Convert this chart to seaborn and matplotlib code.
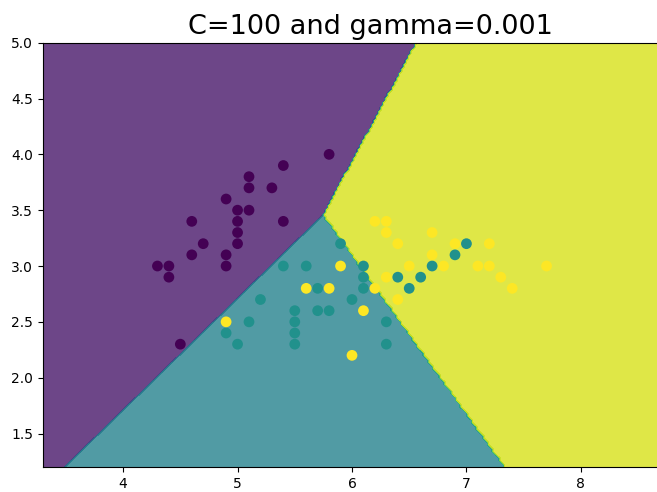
import numpy as np
import pandas as pd
import matplotlib
matplotlib.use("Agg")
import matplotlib.pyplot as plt
import seaborn as sns

# test points (sepal length, sepal width) per class
setosa_x = [5.8, 5.4, 5.1, 5.1, 5.3, 4.9, 5.0, 5.1, 4.6, 5.0, 5.4, 5.0, 4.7, 5.0, 4.6, 4.9, 4.3, 4.4, 4.9, 4.4, 4.5]
setosa_y = [4.0, 3.9, 3.8, 3.7, 3.7, 3.6, 3.5, 3.5, 3.4, 3.4, 3.4, 3.3, 3.2, 3.2, 3.1, 3.1, 3.0, 3.0, 3.0, 2.9, 2.3]
versicolor_x = [5.9, 7.0, 6.9, 5.4, 5.6, 6.1, 6.7, 6.1, 6.4, 6.6, 5.7, 6.1, 6.5, 5.2, 6.0, 5.5, 5.7, 5.8, 5.1, 5.5, 6.3, 4.9, 5.5, 5.0, 5.5, 6.3]
versicolor_y = [3.2, 3.2, 3.1, 3.0, 3.0, 3.0, 3.0, 2.9, 2.9, 2.9, 2.8, 2.8, 2.8, 2.7, 2.7, 2.6, 2.6, 2.6, 2.5, 2.5, 2.5, 2.4, 2.4, 2.3, 2.3, 2.3]
virginica_x = [6.2, 6.3, 6.3, 6.7, 6.4, 6.9, 7.2, 6.7, 5.9, 6.5, 6.8, 7.1, 7.2, 7.7, 6.3, 7.3, 5.6, 5.8, 6.2, 7.4, 6.4, 6.1, 4.9, 6.0]
virginica_y = [3.4, 3.4, 3.3, 3.3, 3.2, 3.2, 3.2, 3.1, 3.0, 3.0, 3.0, 3.0, 3.0, 3.0, 2.9, 2.9, 2.8, 2.8, 2.8, 2.8, 2.7, 2.6, 2.5, 2.2]

# decision region description: junction point and boundary angles (degrees)
junction = [5.75, 3.46]
boundary_angles = [62.2, 225.0, 305.1]  # purple/yellow, purple/teal, teal/yellow

title = "C=100 and gamma=0.001"

X = np.array(setosa_x + versicolor_x + virginica_x)
Y = np.array(setosa_y + versicolor_y + virginica_y)
labels = np.array([0] * len(setosa_x) + [1] * len(versicolor_x) + [2] * len(virginica_x))
df = pd.DataFrame({"x": X, "y": Y, "label": labels})

h = 0.02
x_min, x_max = X.min() - 1, X.max() + 1
y_min, y_max = Y.min() - 1, Y.max() + 1
xx, yy = np.meshgrid(np.arange(x_min, x_max + h, h), np.arange(y_min, y_max + h, h))
ang = np.degrees(np.arctan2(yy - junction[1], xx - junction[0])) % 360
Z = np.where((ang >= boundary_angles[0]) & (ang < boundary_angles[1]), 0,
             np.where((ang >= boundary_angles[1]) & (ang < boundary_angles[2]), 1, 2))

fig = plt.figure(figsize=(6.57, 4.92), dpi=100)
ax = fig.add_axes([43 / 657, 25 / 492, 618 / 657, (492 - 42.7 - 25) / 492])
ax.contourf(xx, yy, Z, cmap="viridis", alpha=0.8)
cmap = plt.get_cmap("viridis")
pal = {0: cmap(0.0), 1: cmap(0.5), 2: cmap(1.0)}
sns.scatterplot(data=df, x="x", y="y", hue="label", palette=pal, s=60,
                linewidth=0, legend=False, ax=ax)
ax.set_xlim(x_min, x_max)
ax.set_ylim(y_min, y_max)
ax.set_xlabel("")
ax.set_ylabel("")
ax.set_title(title, fontsize=19.5, x=0.53)
fig.savefig("out.png", dpi=100)
